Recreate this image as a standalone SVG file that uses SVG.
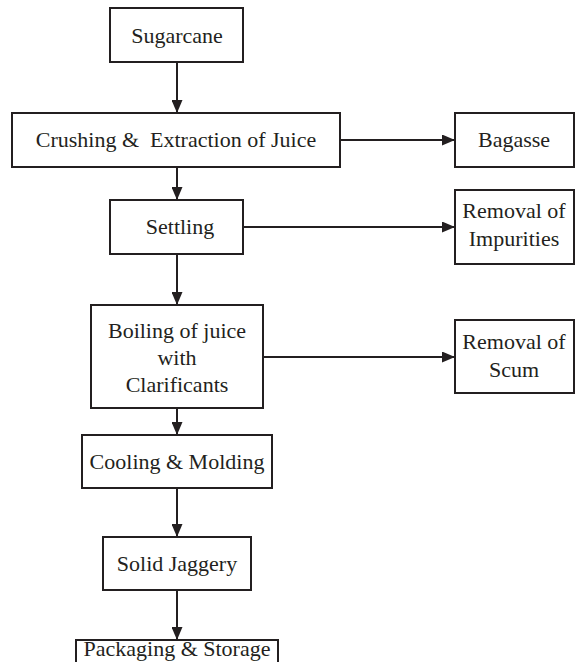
<svg xmlns="http://www.w3.org/2000/svg" width="579" height="662" viewBox="0 0 579 662">
<style>
.box{fill:#fff;stroke:#231f20;stroke-width:2}
.t{font-family:'Liberation Serif','Times New Roman',serif;font-size:22px;fill:#231f20;text-anchor:middle}
.c{stroke:#231f20;stroke-width:2;fill:none;marker-end:url(#ah)}
</style>
<defs>
<marker id="ah" markerUnits="userSpaceOnUse" markerWidth="13" markerHeight="11" refX="13" refY="5.5" orient="auto">
<path d="M0,0 L13,5.5 L0,11 z" fill="#231f20"/>
</marker>
</defs>
<rect width="579" height="662" fill="#fff"/>
<g id="connectors">
<line class="c" x1="177" y1="62" x2="177" y2="113"/>
<line class="c" x1="340" y1="140" x2="455" y2="140"/>
<line class="c" x1="177" y1="167" x2="177" y2="200"/>
<line class="c" x1="243" y1="227" x2="455" y2="227"/>
<line class="c" x1="177" y1="254" x2="177" y2="305"/>
<line class="c" x1="263" y1="357" x2="455" y2="357"/>
<line class="c" x1="177" y1="408" x2="177" y2="435"/>
<line class="c" x1="177" y1="488" x2="177" y2="537"/>
<line class="c" x1="177" y1="590" x2="177" y2="640"/>
</g>
<g id="sugarcane"><rect class="box" x="110" y="8" width="133" height="54"/><text class="t" x="177" y="43">Sugarcane</text></g>
<g id="crushing"><rect class="box" x="12" y="113" width="328" height="54"/><text class="t" x="176" y="147" xml:space="preserve">Crushing &amp;  Extraction of Juice</text></g>
<g id="bagasse"><rect class="box" x="455" y="113" width="119" height="54"/><text class="t" x="514" y="147">Bagasse</text></g>
<g id="settling"><rect class="box" x="110" y="200" width="133" height="54"/><text class="t" x="180" y="234">Settling</text></g>
<g id="impurities"><rect class="box" x="455" y="190" width="119" height="74"/><text class="t" x="514" y="218">Removal of</text><text class="t" x="514" y="246">Impurities</text></g>
<g id="boiling"><rect class="box" x="91" y="305" width="172" height="103"/><text class="t" x="177" y="338">Boiling of juice</text><text class="t" x="177" y="365">with</text><text class="t" x="177" y="392">Clarificants</text></g>
<g id="scum"><rect class="box" x="455" y="320" width="119" height="73"/><text class="t" x="514" y="349">Removal of</text><text class="t" x="514" y="377">Scum</text></g>
<g id="cooling"><rect class="box" x="82" y="435" width="190" height="53"/><text class="t" x="177" y="469">Cooling &amp; Molding</text></g>
<g id="jaggery"><rect class="box" x="103" y="537" width="148" height="53"/><text class="t" x="177" y="571">Solid Jaggery</text></g>
<g id="packaging"><rect class="box" x="76" y="640" width="202" height="40"/><text class="t" x="177" y="656">Packaging &amp; Storage</text></g>
</svg>
